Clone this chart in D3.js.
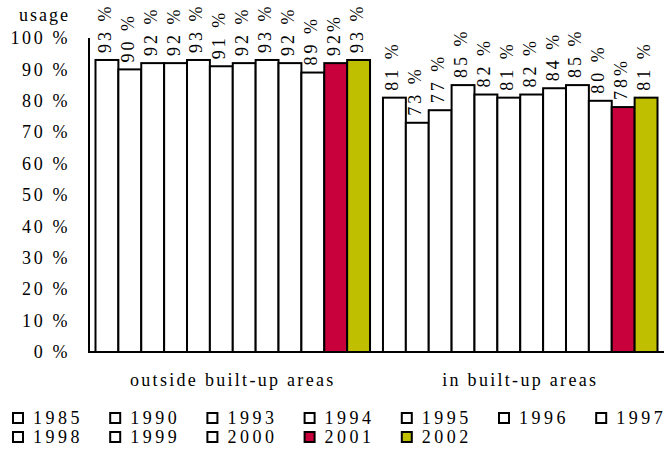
<!DOCTYPE html>
<html>
<head>
<meta charset="utf-8">
<script src="https://cdn.jsdelivr.net/npm/d3@7"></script>
<style>
  html, body { margin: 0; padding: 0; background: #fff; }
  text { fill: #000; }
</style>
</head>
<body>
<svg id="chart" width="665" height="451"></svg>
<script>
const categories = ["outside built-up areas", "in built-up areas"];
const years = ["1985", "1990", "1993", "1994", "1995", "1996", "1997", "1998", "1999", "2000", "2001", "2002"];
const outsideValues = [93, 90, 92, 92, 93, 91, 92, 93, 92, 89, 92, 93];
const insideValues = [81, 73, 77, 85, 82, 81, 82, 84, 85, 80, 78, 81];
const outsideLabels = ["93 %", "90 %", "92 %", "92 %", "93 %", "91 %", "92 %", "93 %", "92 %", "89 %", "92%", "93 %"];
const insideLabels = ["81 %", "73 %", "77 %", "85 %", "82 %", "81 %", "82 %", "84 %", "85 %", "80 %", "78%", "81 %"];
const yTicks = [0, 10, 20, 30, 40, 50, 60, 70, 80, 90, 100];
const yearColors = ["#ffffff", "#ffffff", "#ffffff", "#ffffff", "#ffffff", "#ffffff", "#ffffff", "#ffffff", "#ffffff", "#ffffff", "#c8003c", "#bfbf00"];

const FONT = "'Liberation Serif', 'Times New Roman', serif";

const seriesByCategory = [
  { category: categories[0], values: outsideValues, labels: outsideLabels },
  { category: categories[1], values: insideValues, labels: insideLabels }
];

const svg = d3.select("#chart");
const x0 = d3.scaleBand().domain(categories).range([89, 664]).paddingInner(0.045).paddingOuter(0.0226);
const x1 = d3.scaleBand().domain(years).range([0, x0.bandwidth()]);
const y = d3.scaleLinear().domain([0, 100]).range([352, 38]);
const color = d3.scaleOrdinal().domain(years).range(yearColors);

// Y axis labels
const yAxis = d3.axisLeft(y).tickValues(yTicks).tickSize(0).tickPadding(0).tickFormat(d => d + " %");
const gy = svg.append("g").attr("transform", "translate(70,0)").call(yAxis);
gy.attr("font-family", FONT).attr("font-size", 18);
gy.select(".domain").remove();
gy.selectAll("text")
  .attr("font-family", FONT)
  .style("font-size", "18px")
  .style("letter-spacing", "2.6px")
  .attr("fill", "#000");

svg.append("text").attr("x", 70).attr("y", 15).attr("dy", "0.35em")
  .attr("font-family", FONT)
  .attr("text-anchor", "end").style("font-size", "18px").style("letter-spacing", "2px")
  .text("usage");

// Bars
const groups = svg.selectAll("g.cat").data(seriesByCategory).join("g")
  .attr("class", "cat")
  .attr("transform", d => `translate(${x0(d.category)},0)`);

groups.selectAll("rect").data(d => d.values.map((v, i) => ({ year: years[i], value: v })))
  .join("rect")
  .attr("x", d => x1(d.year))
  .attr("y", d => y(d.value))
  .attr("width", x1.bandwidth())
  .attr("height", d => y(0) - y(d.value))
  .attr("fill", d => color(d.year))
  .attr("stroke", "#000")
  .attr("stroke-width", 2);

groups.selectAll("text.val").data(d => d.values.map((v, i) => ({ year: years[i], value: v, label: d.labels[i] })))
  .join("text")
  .attr("class", "val")
  .attr("font-family", FONT)
  .attr("transform", d => `translate(${x1(d.year) + x1.bandwidth() / 2},${y(d.value) - 7}) rotate(-90)`)
  .attr("dy", 4)
  .style("font-size", "18px")
  .style("letter-spacing", "3px")
  .text(d => d.label);

// Axis lines
svg.append("line").attr("x1", 89).attr("x2", 89).attr("y1", 38).attr("y2", 352)
  .attr("stroke", "#000").attr("stroke-width", 2);
svg.append("line").attr("x1", 88).attr("x2", 664).attr("y1", 352).attr("y2", 352)
  .attr("stroke", "#000").attr("stroke-width", 2);

// Category axis labels
const xAxis = d3.axisBottom(x0).tickSize(0).tickPadding(0);
const gx = svg.append("g").attr("transform", "translate(0,373)").call(xAxis);
gx.attr("font-family", FONT).attr("font-size", 18);
gx.select(".domain").remove();
gx.selectAll("text")
  .attr("font-family", FONT)
  .style("font-size", "18px")
  .style("letter-spacing", "2.3px")
  .attr("fill", "#000");

// Legend
const legend = svg.append("g");
const items = legend.selectAll("g").data(years).join("g")
  .attr("transform", (d, i) => `translate(${12 + (i % 7) * 97.2},${413 + Math.floor(i / 7) * 19})`);
items.append("rect").attr("x", 1).attr("y", 0).attr("width", 10).attr("height", 10)
  .attr("fill", d => color(d)).attr("stroke", "#000").attr("stroke-width", 2);
items.append("text").attr("x", 21).attr("y", 5).attr("dy", "0.36em")
  .attr("font-family", FONT)
  .style("font-size", "18px").style("letter-spacing", "3.5px")
  .text(d => d);
</script>
</body>
</html>
